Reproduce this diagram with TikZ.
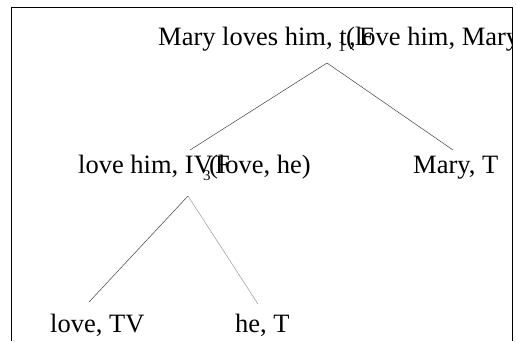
\documentclass[tikz,border=0pt]{standalone}
\usepackage{fontspec}
\setmainfont{Liberation Serif}
\begin{document}
\begin{tikzpicture}[x=1pt,y=-1pt,
  lbl/.style={inner sep=0pt,anchor=base west,font=\fontsize{26.5}{31}\selectfont},
  sub/.style={inner sep=0pt,anchor=base west,font=\fontsize{15}{18}\selectfont},
  edge/.style={line width=0.5pt,black!75},
  faint/.style={line width=0.5pt,black!40},
  frame/.style={line width=1pt,black}]
\useasboundingbox (0,0) rectangle (516,341);
\draw[frame] (11.5,341) -- (11.5,7.5) -- (512.5,7.5) -- (512.5,341);
\begin{scope}
\clip (12,8) rectangle (512,341);
% top
\node[lbl] (top) at (158,45) {Mary loves him, t};
\node[sub] (topsub) at (338,51) {1};
\node[lbl] (toprest) at (346,45) {(love him, Mary)};
\node[lbl] (topcomma) at (349,45) {,};
\node[lbl] (topF) at (359,45) {F};
% middle
\node[lbl] (mid) at (78,173) {love him, IV};
\node[sub] (midsub) at (203,180) {3};
\node[lbl] (midrest) at (209,173) {(love, he)};
\node[lbl] (midF) at (215,173) {F};
\node[lbl] (mary) at (413,173) {Mary, T};
% bottom
\node[lbl] (lovetv) at (50,332) {love, TV};
\node[lbl] (het) at (235,332) {he, T};
\end{scope}
\coordinate (a) at (327,63);
\coordinate (b) at (190,150);
\coordinate (c) at (453,150);
\coordinate (d) at (188,196);
\coordinate (e) at (89,302);
\coordinate (f) at (258,304);
\draw[edge] (a) -- (b);
\draw[edge] (a) -- (c);
\draw[edge] (d) -- (e);
\draw[faint] (d) -- (f);
\end{tikzpicture}
\end{document}
